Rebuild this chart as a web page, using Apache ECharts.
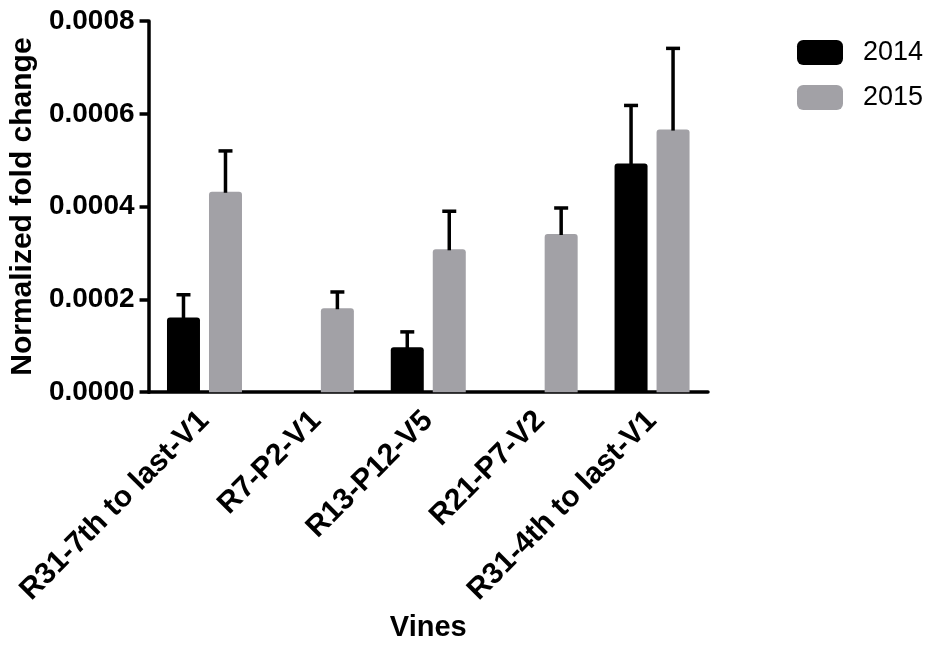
<!DOCTYPE html>
<html><head><meta charset="utf-8">
<script src="https://cdn.jsdelivr.net/npm/echarts@6/dist/echarts.min.js"></script>
<style>html,body{margin:0;padding:0;background:#fff}#c{width:926px;height:647px}</style>
</head><body><div id="c"></div>
<script>
const categories = ['R31-7th to last-V1', 'R7-P2-V1', 'R13-P12-V5', 'R21-P7-V2', 'R31-4th to last-V1'];
const seriesNames = ['2014', '2015'];
const mean2014 = [0.000161, null, 0.000097, null, 0.000493];
const err2014 = [0.000049, null, 0.000033, null, 0.000125];
const mean2015 = [0.000432, 0.000181, 0.000308, 0.000341, 0.000566];
const err2015 = [0.000088, 0.000035, 0.000082, 0.000056, 0.000175];
const yTicks = [0, 0.0002, 0.0004, 0.0006, 0.0008];

const FONT = 'Liberation Sans, Arial, Helvetica, sans-serif';
const BAR_W = 33, BAR_GAP = 9;
const colors = ['#000000', '#a2a1a6'];

function errData(means, errs) {
  const out = [];
  means.forEach((m, i) => { if (m != null && errs[i] != null) out.push([i, m, errs[i]]); });
  return out;
}
function errSeries(name, means, errs, dir) {
  return {
    type: 'custom', name: name, z: 5,
    data: errData(means, errs),
    encode: { x: 0, y: 1 },
    renderItem: function (params, api) {
      const i = api.value(0), m = api.value(1), e = api.value(2);
      const p0 = api.coord([i, m]);
      const p1 = api.coord([i, m + e]);
      const x = p0[0] + dir * (BAR_W + BAR_GAP) / 2;
      const style = { stroke: '#000', lineWidth: 3.5, fill: null };
      return {
        type: 'group',
        children: [
          { type: 'line', shape: { x1: x, y1: p0[1] + 1, x2: x, y2: p1[1] }, style: style },
          { type: 'line', shape: { x1: x - 7, y1: p1[1], x2: x + 7, y2: p1[1] }, style: style }
        ]
      };
    }
  };
}

const chart = echarts.init(document.getElementById('c'), null, { renderer: 'canvas' });
chart.setOption({
  animation: false,
  backgroundColor: '#ffffff',
  textStyle: { fontFamily: FONT },
  grid: { left: 146, right: 218, top: 21, bottom: 253, containLabel: false },
  legend: {
    orient: 'vertical', left: 792, top: 34,
    itemWidth: 46, itemHeight: 25, itemGap: 18,
    icon: 'roundRect',
    data: seriesNames,
    textStyle: { fontFamily: FONT, fontSize: 27, color: '#000', lineHeight: 25, padding: [0, 0, 0, 15] }
  },
  xAxis: {
    type: 'category', data: categories,
    name: 'Vines', nameLocation: 'middle', nameGap: 218,
    nameTextStyle: { fontFamily: FONT, fontSize: 29, fontWeight: 'bold', color: '#000' },
    axisLine: { lineStyle: { color: '#000', width: 3.5 } },
    axisTick: { alignWithLabel: true, length: 10, lineStyle: { color: '#000', width: 3.5 } },
    axisLabel: { rotate: 45, interval: 0, margin: 24, fontFamily: FONT, fontSize: 30, fontWeight: 'bold', color: '#000' },
    splitLine: { show: false }
  },
  yAxis: {
    type: 'value', min: yTicks[0], max: yTicks[yTicks.length - 1], interval: yTicks[1] - yTicks[0],
    name: 'Normalized fold change', nameLocation: 'middle', nameGap: 100,
    nameTextStyle: { fontFamily: FONT, fontSize: 30, fontWeight: 'bold', color: '#000' },
    axisLine: { show: true, lineStyle: { color: '#000', width: 3.5 } },
    axisTick: { show: true, length: 9, lineStyle: { color: '#000', width: 3.5 } },
    axisLabel: { margin: 14, fontFamily: FONT, fontSize: 28, fontWeight: 'bold', color: '#000',
      formatter: v => v.toFixed(4) },
    splitLine: { show: false }
  },
  series: [
    { type: 'bar', name: seriesNames[0], data: mean2014, barWidth: BAR_W, barGap: (BAR_GAP / BAR_W * 100) + '%',
      itemStyle: { color: colors[0], borderRadius: [3, 3, 0, 0] } },
    { type: 'bar', name: seriesNames[1], data: mean2015, barWidth: BAR_W,
      itemStyle: { color: colors[1], borderRadius: [3, 3, 0, 0] } },
    errSeries('err2014', mean2014, err2014, -1),
    errSeries('err2015', mean2015, err2015, 1)
  ]
});
</script></body></html>
